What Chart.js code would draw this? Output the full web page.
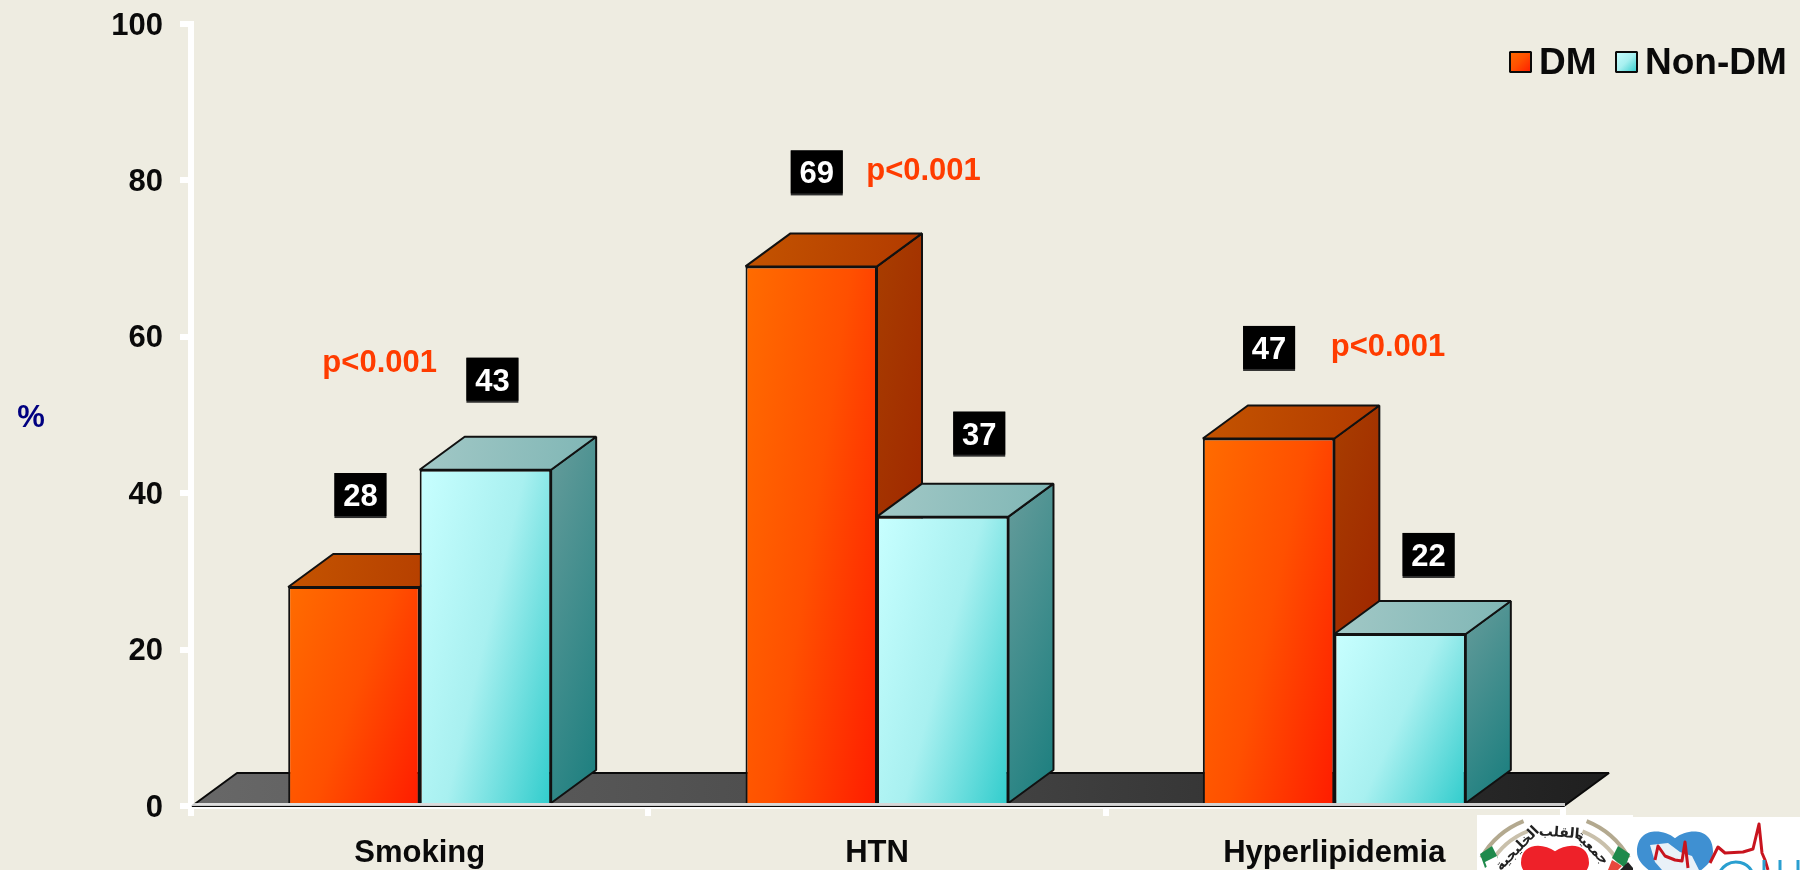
<!DOCTYPE html>
<html>
<head>
<meta charset="utf-8">
<title>Risk factors: DM vs Non-DM</title>
<script src="https://cdn.jsdelivr.net/npm/chart.js@4"></script>
<style>
  html, body { margin: 0; padding: 0; background: #eeece1; overflow: hidden; }
  canvas { display: block; }
</style>
</head>
<body>
<canvas id="riskChart" width="1800" height="870"></canvas>
<script>
const categories = ["Smoking", "HTN", "Hyperlipidemia"];
const dmValues = [28, 69, 47];
const nonDmValues = [43, 37, 22];
const pLabels = ["p<0.001", "p<0.001", "p<0.001"];
const seriesNames = ["DM", "Non-DM"];
const axisMax = 100;
const axisStep = 20;
const axisUnit = "%";

const FONT = '"Liberation Sans", Arial, sans-serif';
const DEPTH_X = 45;
const DEPTH_Y = -33;

// colours per series: front ramp, top face ramp, side face ramp
const faceColors = [
  {
    front: ["#ff6c00", "#ff5000", "#ff1c00"],
    top: ["#c45400", "#b23a00"],
    side: ["#a83e00", "#9c1e00"]
  },
  {
    front: ["#c8ffff", "#a8f0f0", "#30cccc"],
    top: ["#a2c8c6", "#7fb6b5"],
    side: ["#669c9b", "#1f8080"]
  }
];

// value badge offset from the bar's top centre, [dx, dy to the badge top]
const badgeOffsets = [
  [[6.5, -114], [5.5, -116], [0.5, -112.5]],
  [[7, -112], [36.5, -105], [28.5, -101]]
];

// p value anchors: dx from the category centre, height in axis units
const pAnchors = [[-40, 55.5], [46.5, 80.1], [53.7, 57.6]];

function diagonalGradient(ctx, x, y, w, h, stops, wx, wy) {
  const a = wx / w;
  const b = wy / h;
  const n = a * a + b * b;
  const g = ctx.createLinearGradient(x, y, x + a / n, y + b / n);
  stops.forEach((c, i) => g.addColorStop(i / (stops.length - 1), c));
  return g;
}

function barFill(context) {
  const { chart, datasetIndex, dataIndex } = context;
  if (!chart.chartArea || dataIndex === undefined) return faceColors[datasetIndex].front[0];
  const xScale = chart.scales.x;
  const yScale = chart.scales.y;
  const catW = xScale.getPixelForValue(1) - xScale.getPixelForValue(0);
  const w = catW * 0.575 / 2;
  const center = xScale.getPixelForValue(dataIndex);
  const left = datasetIndex === 0 ? center - w : center;
  const top = yScale.getPixelForValue(context.raw);
  const h = yScale.getPixelForValue(0) - top;
  return diagonalGradient(chart.ctx, left, top, w, h, faceColors[datasetIndex].front, 0.62, 0.38);
}

function fillPoly(ctx, pts, fill, stroke, lineWidth) {
  ctx.beginPath();
  pts.forEach((p, i) => (i ? ctx.lineTo(p[0], p[1]) : ctx.moveTo(p[0], p[1])));
  ctx.closePath();
  ctx.fillStyle = fill;
  ctx.fill();
  if (stroke) {
    ctx.strokeStyle = stroke;
    ctx.lineWidth = lineWidth;
    ctx.lineJoin = "bevel";
    ctx.stroke();
  }
}

function drawFloor(chart) {
  const { ctx, chartArea } = chart;
  const l = chartArea.left + 1;
  const r = chartArea.right + 1;
  const b = chartArea.bottom;
  const g = ctx.createLinearGradient(l, 0, r + DEPTH_X, 0);
  g.addColorStop(0, "#686868");
  g.addColorStop(0.5, "#484848");
  g.addColorStop(1, "#1f1f1f");
  fillPoly(ctx, [[l, b], [l + DEPTH_X, b + DEPTH_Y], [r + DEPTH_X, b + DEPTH_Y], [r, b]], g, "#0a0a0a", 2);
}

function drawExtrusions(chart) {
  const { ctx } = chart;
  chart.data.datasets.forEach((ds, di) => {
    const colors = faceColors[di];
    chart.getDatasetMeta(di).data.forEach((bar) => {
      const l = bar.x - bar.width / 2;
      const r = bar.x + bar.width / 2;
      const t = bar.y;
      const b = bar.base;
      const sideFill = diagonalGradient(ctx, r, t + DEPTH_Y, DEPTH_X, b - t, colors.side, 0.3, 0.7);
      fillPoly(ctx, [[r, t], [r + DEPTH_X, t + DEPTH_Y], [r + DEPTH_X, b + DEPTH_Y], [r, b]], sideFill, "#111", 2);
      const topFill = ctx.createLinearGradient(l, t + DEPTH_Y, r + DEPTH_X, t);
      topFill.addColorStop(0, colors.top[0]);
      topFill.addColorStop(1, colors.top[1]);
      fillPoly(ctx, [[l, t], [l + DEPTH_X, t + DEPTH_Y], [r + DEPTH_X, t + DEPTH_Y], [r, t]], topFill, "#111", 2);
    });
  });
}

function drawBadges(chart) {
  const { ctx } = chart;
  ctx.font = "bold 31px " + FONT;
  ctx.textAlign = "center";
  ctx.textBaseline = "alphabetic";
  chart.data.datasets.forEach((ds, di) => {
    chart.getDatasetMeta(di).data.forEach((bar, i) => {
      const [dx, dy] = badgeOffsets[di][i];
      const cx = bar.x + dx;
      const top = bar.y + dy;
      ctx.fillStyle = "#2e2e2e";
      ctx.fillRect(cx - 26, top, 52, 45);
      ctx.fillStyle = "#000";
      ctx.fillRect(cx - 26, top, 52, 43);
      ctx.fillStyle = "#fff";
      ctx.fillText(String(ds.data[i]), cx, top + 33);
    });
  });
}

function drawPLabels(chart) {
  const { ctx, scales } = chart;
  ctx.font = "bold 31px " + FONT;
  ctx.textAlign = "center";
  ctx.textBaseline = "alphabetic";
  ctx.fillStyle = "#ff3c00";
  pLabels.forEach((text, i) => {
    const [dx, v] = pAnchors[i];
    ctx.fillText(text, scales.x.getPixelForValue(i) + dx, scales.y.getPixelForValue(v));
  });
}

function drawUnit(chart) {
  const { ctx, chartArea } = chart;
  ctx.font = "bold 31px " + FONT;
  ctx.textAlign = "center";
  ctx.textBaseline = "middle";
  ctx.fillStyle = "#000080";
  ctx.fillText(axisUnit, 31, (chartArea.top + chartArea.bottom) / 2 + 3);
}

function drawLegend(chart) {
  const { ctx } = chart;
  const items = [
    { swatch: 1510, text: 1539 },
    { swatch: 1616, text: 1645 }
  ];
  seriesNames.forEach((name, i) => {
    const s = items[i].swatch;
    const g = ctx.createLinearGradient(s, 51, s + 21, 72);
    faceColors[i].front.forEach((c, k, arr) => g.addColorStop(k / (arr.length - 1), c));
    ctx.fillStyle = g;
    ctx.fillRect(s, 52, 21, 20);
    ctx.strokeStyle = "#0a0a0a";
    ctx.lineWidth = 2;
    ctx.strokeRect(s, 52, 21, 20);
    ctx.font = "bold 37px " + FONT;
    ctx.textAlign = "left";
    ctx.textBaseline = "alphabetic";
    ctx.fillStyle = "#0a0a0a";
    ctx.fillText(name, items[i].text, 74);
  });
}

function polyline(ctx, pts, color, width) {
  ctx.beginPath();
  pts.forEach((p, i) => (i ? ctx.lineTo(p[0], p[1]) : ctx.moveTo(p[0], p[1])));
  ctx.strokeStyle = color;
  ctx.lineWidth = width;
  ctx.lineJoin = "round";
  ctx.stroke();
}

function drawHeart(ctx, cx, top, halfW, height, color) {
  ctx.beginPath();
  ctx.moveTo(cx, top + height * 0.12);
  ctx.bezierCurveTo(cx - halfW * 0.35, top - height * 0.08, cx - halfW, top - height * 0.08, cx - halfW, top + height * 0.38);
  ctx.bezierCurveTo(cx - halfW, top + height * 0.7, cx - halfW * 0.3, top + height * 0.9, cx, top + height);
  ctx.bezierCurveTo(cx + halfW * 0.3, top + height * 0.9, cx + halfW, top + height * 0.7, cx + halfW, top + height * 0.38);
  ctx.bezierCurveTo(cx + halfW, top - height * 0.08, cx + halfW * 0.35, top - height * 0.08, cx, top + height * 0.12);
  ctx.fillStyle = color;
  ctx.fill();
}

// association badges in the lower right corner
function drawLogos(chart) {
  const { ctx } = chart;
  ctx.save();
  ctx.fillStyle = "#fff";
  ctx.fillRect(1477, 815, 156, 55);
  ctx.fillRect(1633, 817, 167, 53);

  // ring segments
  const cx = 1555;
  const cy = 900;
  [[-2.62, -1.95], [-1.19, -0.52]].forEach(([a0, a1]) => {
    [[74, 4, "#c9c0ab"], [80, 4, "#fff"], [85, 4, "#b3a98f"]].forEach(([rad, w, c]) => {
      ctx.beginPath();
      ctx.arc(cx, cy, rad, a0, a1);
      ctx.strokeStyle = c;
      ctx.lineWidth = w;
      ctx.stroke();
    });
  });
  // flag bands at the ends of the rings
  fillPoly(ctx, [[1480, 854], [1492, 846], [1498, 858], [1485, 868]], "#1f8a4c");
  fillPoly(ctx, [[1485, 862], [1497, 856], [1500, 866], [1488, 870]], "#ffffff");
  fillPoly(ctx, [[1630, 854], [1618, 846], [1612, 858], [1625, 868]], "#1f8a4c");
  fillPoly(ctx, [[1612, 860], [1622, 866], [1618, 870], [1608, 870]], "#e8483c");
  fillPoly(ctx, [[1628, 862], [1633, 868], [1633, 870], [1620, 870]], "#222");

  // name around the top of the emblem
  ctx.font = "bold 14px 'DejaVu Sans'";
  ctx.fillStyle = "#222";
  ctx.textAlign = "center";
  ctx.textBaseline = "middle";
  [["جمعية", 0.78], ["القلب", 0.08], ["الخليجية", -0.8]].forEach(([word, ang]) => {
    ctx.save();
    ctx.translate(1555 + Math.sin(ang) * 52, 885 - Math.cos(ang) * 52);
    ctx.rotate(ang);
    ctx.fillText(word, 0, 0);
    ctx.restore();
  });
  drawHeart(ctx, 1555, 846, 34, 44, "#ee2129");

  // blue heart with the map and trace
  drawHeart(ctx, 1675, 832, 38, 52, "#3f90d2");
  fillPoly(ctx, [[1650, 845], [1668, 843], [1680, 852], [1692, 856], [1699, 870], [1662, 870], [1655, 862]], "#e9f1f8");
  polyline(ctx, [[1655, 860], [1658, 846], [1665, 856], [1675, 860], [1682, 861], [1685, 842], [1688, 868]], "#c8141e", 3);
  polyline(ctx, [[1710, 863], [1718, 847], [1725, 853], [1743, 852], [1753, 849], [1759, 824], [1762, 853], [1765, 860], [1768, 870]], "#c8141e", 3);

  // letter tops of the association name
  ctx.beginPath();
  ctx.arc(1736, 880, 18, -2.9, -0.35);
  ctx.strokeStyle = "#2a9fd0";
  ctx.lineWidth = 3;
  ctx.stroke();
  polyline(ctx, [[1764, 860], [1764, 870]], "#2a9fd0", 3);
  polyline(ctx, [[1780, 860], [1780, 870]], "#2a9fd0", 3);
  polyline(ctx, [[1798, 860], [1798, 870]], "#2a9fd0", 3);
  ctx.restore();
}

const cuboidPlugin = {
  id: "cuboid",
  beforeDraw(chart) {
    // nudge the value axis labels down onto their tick marks
    chart.scales.y.getLabelItems().forEach((item) => {
      item.options.translation[1] += 2;
    });
  },
  beforeDatasetsDraw(chart) {
    drawFloor(chart);
    drawExtrusions(chart);
  },
  afterDatasetsDraw(chart) {
    const { ctx, chartArea } = chart;
    // pale seam where the floor meets the axis line
    ctx.fillStyle = "rgba(255,255,255,0.78)";
    ctx.fillRect(chartArea.left, chartArea.bottom - 3, chartArea.right - chartArea.left + 2, 3);
  },
  afterDraw(chart) {
    drawBadges(chart);
    drawPLabels(chart);
    drawUnit(chart);
    drawLegend(chart);
    drawLogos(chart);
  }
};

const barStyle = {
  categoryPercentage: 0.575,
  barPercentage: 1,
  backgroundColor: barFill,
  borderColor: "#111",
  borderWidth: 2,
  borderSkipped: "bottom"
};

new Chart(document.getElementById("riskChart"), {
  type: "bar",
  data: {
    labels: categories,
    datasets: [
      { label: seriesNames[0], data: dmValues, ...barStyle },
      { label: seriesNames[1], data: nonDmValues, ...barStyle }
    ]
  },
  options: {
    responsive: false,
    animation: false,
    devicePixelRatio: 1,
    layout: { padding: { left: 0, right: 237, top: 24, bottom: 0 } },
    plugins: {
      legend: { display: false },
      title: { display: false },
      tooltip: { enabled: false }
    },
    scales: {
      x: {
        afterFit(scale) {
          scale.height = 64;
          scale.paddingLeft = 0;
          scale.paddingRight = 0;
        },
        border: { color: "#fff", width: 6 },
        grid: { drawOnChartArea: false, color: "#fff", lineWidth: 6, tickLength: 10 },
        ticks: { color: "#0a0a0a", font: { family: FONT, size: 31, weight: "bold" }, padding: 19, maxRotation: 0 }
      },
      y: {
        min: 0,
        max: axisMax,
        afterFit(scale) {
          scale.width = 191;
          scale.paddingTop = 0;
          scale.paddingBottom = 0;
        },
        border: { color: "#fff", width: 6 },
        grid: { drawOnChartArea: false, color: "#fff", lineWidth: 6, tickLength: 11 },
        ticks: { stepSize: axisStep, color: "#0a0a0a", font: { family: FONT, size: 31, weight: "bold" }, padding: 17 }
      }
    }
  },
  plugins: [cuboidPlugin]
});
</script>
</body>
</html>
